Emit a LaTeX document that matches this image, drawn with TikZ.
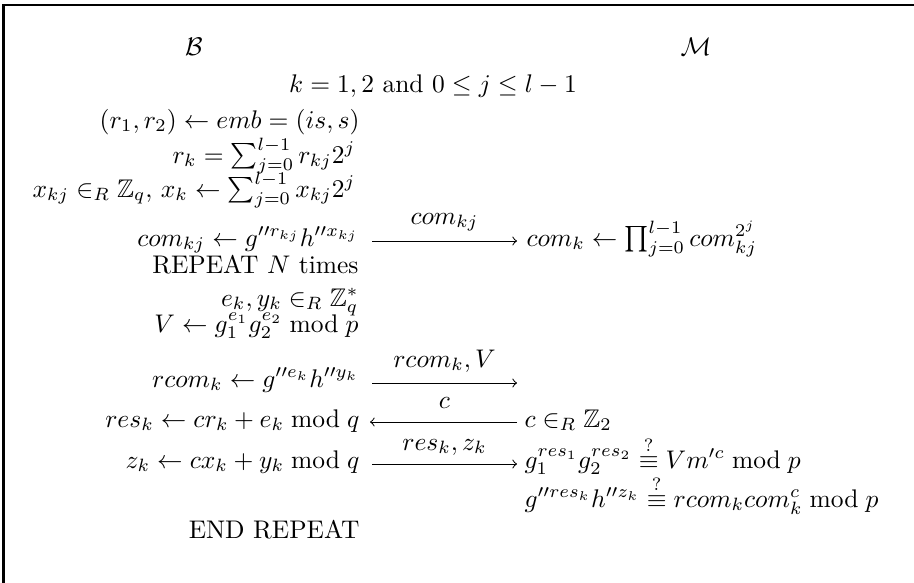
\documentclass[tikz,border=0pt]{standalone}
\usepackage{amsmath,amssymb}
\begin{document}
\begin{tikzpicture}[x=0.3922pt,y=-0.3922pt,
  lft/.style={anchor=base east,inner sep=0pt},
  rgt/.style={anchor=base west,inner sep=0pt},
  ctr/.style={anchor=base,inner sep=0pt},
  msg/.style={->,line width=0.4pt},
  lbl/.style={anchor=base,inner sep=0pt}]
\useasboundingbox (0,0) rectangle (914,582);
\begin{scope}
\clip (0,0) rectangle (914,582);
\draw[line width=0.8pt] (3.5,5) rectangle (1000,700);
\end{scope}
% headers
\node[ctr] (B) at (194,55) {$\mathcal{B}$};
\node[ctr] (M) at (696,55) {$\mathcal{M}$};
\node[ctr] (range) at (433,92) {$k=1,2 \mbox{ and } 0\leq j\leq l-1$};
% left column
\node[lft] (l1) at (360,128) {$(r_1,r_2)\leftarrow emb=(is,s)$};
\node[lft] (l2) at (356,163) {$r_k=\sum_{j=0}^{l-1} r_{kj}2^j$};
\node[lft] (l3) at (356,197) {$x_{kj}\in_R \mathbb{Z}_q,\, x_k\leftarrow\sum_{j=0}^{l-1}x_{kj}2^j$};
\node[lft] (l4) at (359,246) {$com_{kj}\leftarrow g''^{r_{kj}}h''^{x_{kj}}$};
\node[lft] (l5) at (359,273) {REPEAT $N$ times};
\node[lft] (l6) at (359,306) {$e_k, y_k\in_R\mathbb{Z}_q^*$};
\node[lft] (l7) at (359,332) {$V\leftarrow g_1^{e_1}g_2^{e_2}\bmod p$};
\node[lft] (l8) at (359,387) {$rcom_k\leftarrow g''^{e_k}h''^{y_k}$};
\node[lft] (l9) at (360,427) {$res_k\leftarrow cr_k+e_k\bmod q$};
\node[lft] (l10) at (360,468) {$z_k\leftarrow cx_k+y_k\bmod q$};
\node[lft] (l11) at (360,538) {END REPEAT};
% right column
\node[rgt] (r1) at (526,246) {$com_k\leftarrow\prod_{j=0}^{l-1}com_{kj}^{2^j}$};
\node[rgt] (r2) at (524,427) {$c\in_R\mathbb{Z}_2$};
\node[rgt] (r3) at (524,468) {$g_1^{res_1}g_2^{res_2}\stackrel{?}{\equiv}Vm'^c\bmod p$};
\node[rgt] (r4) at (524,507) {$g''^{res_k}h''^{z_k}\stackrel{?}{\equiv}rcom_k com_k^c\bmod p$};
% message arrows
\coordinate (a1s) at (372,241); \coordinate (a1e) at (517,241);
\coordinate (a2s) at (372,383); \coordinate (a2e) at (517,383);
\coordinate (a3s) at (517,422); \coordinate (a3e) at (370,422);
\coordinate (a4s) at (372,464); \coordinate (a4e) at (517,464);
\draw[msg] (a1s) -- (a1e);
\draw[msg] (a2s) -- (a2e);
\draw[msg] (a3s) -- (a3e);
\draw[msg] (a4s) -- (a4e);
\node[lbl] (m1) at (444.5,224) {$com_{kj}$};
\node[lbl] (m2) at (444.5,367) {$rcom_k, V$};
\node[lbl] (m3) at (444.5,408) {$c$};
\node[lbl] (m4) at (444.5,450) {$res_k, z_k$};
\end{tikzpicture}
\end{document}
